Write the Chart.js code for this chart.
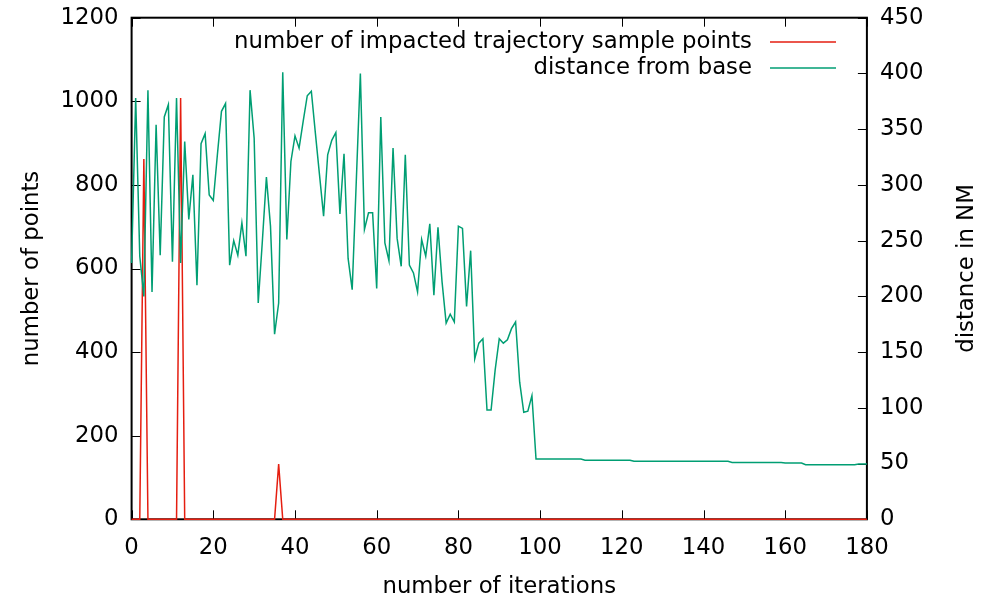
<!DOCTYPE html>
<html>
<head>
<meta charset="utf-8">
<script src="https://cdn.jsdelivr.net/npm/chart.js@4.4.1/dist/chart.umd.min.js"></script>
<style>
  html, body { margin: 0; padding: 0; background: #fff; }
  #wrap { width: 981px; height: 601px; }
</style>
</head>
<body>
<div id="wrap"><canvas id="chart"></canvas></div>
<script>
// tick labels
const IterationTicks = [0, 20, 40, 60, 80, 100, 120, 140, 160, 180];
const PointTicks = [0, 200, 400, 600, 800, 1000, 1200];
const DistanceTicks = [0, 50, 100, 150, 200, 250, 300, 350, 400, 450];

const SeriesLabels = ["number of impacted trajectory sample points", "distance from base"];

// one value per iteration, index = iteration number (0..180)
const ImpactedPoints = [
  0, 0, 0, 862, 0, 0, 0, 0, 0, 0,
  0, 0, 1008, 0, 0, 0, 0, 0, 0, 0,
  0, 0, 0, 0, 0, 0, 0, 0, 0, 0,
  0, 0, 0, 0, 0, 0, 132, 0, 0, 0,
  0, 0, 0, 0, 0, 0, 0, 0, 0, 0,
  0, 0, 0, 0, 0, 0, 0, 0, 0, 0,
  0, 0, 0, 0, 0, 0, 0, 0, 0, 0,
  0, 0, 0, 0, 0, 0, 0, 0, 0, 0,
  0, 0, 0, 0, 0, 0, 0, 0, 0, 0,
  0, 0, 0, 0, 0, 0, 0, 0, 0, 0,
  0, 0, 0, 0, 0, 0, 0, 0, 0, 0,
  0, 0, 0, 0, 0, 0, 0, 0, 0, 0,
  0, 0, 0, 0, 0, 0, 0, 0, 0, 0,
  0, 0, 0, 0, 0, 0, 0, 0, 0, 0,
  0, 0, 0, 0, 0, 0, 0, 0, 0, 0,
  0, 0, 0, 0, 0, 0, 0, 0, 0, 0,
  0, 0, 0, 0, 0, 0, 0, 0, 0, 0,
  0, 0, 0, 0, 0, 0, 0, 0, 0, 0,
  0
];

const DistanceFromBase = [
  230, 378, 236, 200, 385, 204, 354, 237, 361, 372,
  231, 378, 230, 339, 269, 309, 210, 337, 346, 291,
  286, 327, 366, 373, 228, 250, 237, 266, 236, 385,
  342, 194, 249, 307, 263, 166, 194, 401, 251, 321,
  344, 333, 357, 380, 384, 346, 309, 272, 327, 340,
  347, 274, 328, 234, 206, 303, 400, 260, 275, 275,
  207, 361, 248, 232, 333, 252, 227, 327, 228, 221,
  204, 251, 236, 265, 201, 262, 213, 176, 184, 177,
  263, 261, 191, 241, 144, 158, 162, 98, 98, 134,
  162, 158, 161, 171, 177, 123, 96, 97, 111, 54,
  54, 54, 54, 54, 54, 54, 54, 54, 54, 54,
  54, 53, 53, 53, 53, 53, 53, 53, 53, 53,
  53, 53, 53, 52, 52, 52, 52, 52, 52, 52,
  52, 52, 52, 52, 52, 52, 52, 52, 52, 52,
  52, 52, 52, 52, 52, 52, 52, 51, 51, 51,
  51, 51, 51, 51, 51, 51, 51, 51, 51, 51,
  50.5, 50.5, 50.5, 50.5, 50.5, 49, 49, 49, 49, 49,
  49, 49, 49, 49, 49, 49, 49, 49, 49.5, 49.5,
  49.5
];

const FontFamily = '"DejaVu Sans", sans-serif';
const FontSize = 22.8;
const Red = "#e51e10";
const Green = "#009e73";

const PlotBox = { left: 131.6, right: 866.9, top: 17.7, bottom: 519.3 };

function UseTicks(List) {
  return (Scale) => { Scale.ticks = List.map(v => ({ value: v })); };
}
const PlainLabel = (v) => String(v);

// fixed axis boxes so the plot area lands where gnuplot put it
function FixWidth(W) {
  return (s) => { s.width = W; s.paddingTop = 0; s.paddingBottom = 0; };
}
function FixHeight(H) {
  return (s) => { s.height = H; s.paddingLeft = 0; s.paddingRight = 0; };
}

// gnuplot style frame + inward tick marks
const FramePlugin = {
  id: "frame",
  beforeDatasetsDraw(chart) {
    const { ctx, chartArea } = chart;
    const { x, y, y2 } = chart.scales;
    ctx.save();
    ctx.strokeStyle = "#000";
    ctx.lineWidth = 1;
    ctx.beginPath();
    IterationTicks.forEach(v => {
      const px = Math.round(x.getPixelForValue(v)) + 0.5;
      ctx.moveTo(px, chartArea.bottom); ctx.lineTo(px, chartArea.bottom - 9);
      ctx.moveTo(px, chartArea.top); ctx.lineTo(px, chartArea.top + 9);
    });
    PointTicks.forEach(v => {
      const py = Math.round(y.getPixelForValue(v)) + 0.5;
      ctx.moveTo(chartArea.left, py); ctx.lineTo(chartArea.left + 9, py);
    });
    DistanceTicks.forEach(v => {
      const py = Math.round(y2.getPixelForValue(v)) + 0.5;
      ctx.moveTo(chartArea.right, py); ctx.lineTo(chartArea.right - 9, py);
    });
    ctx.stroke();
    ctx.lineWidth = 2;
    ctx.strokeRect(chartArea.left, chartArea.top, chartArea.right - chartArea.left, chartArea.bottom - chartArea.top);
    ctx.restore();
  },
  afterDraw(chart) {
    const { ctx, chartArea } = chart;
    ctx.save();
    ctx.font = FontSize + "px " + FontFamily;
    ctx.fillStyle = "#000";
    // right axis title, reading bottom to top like the left one
    ctx.save();
    ctx.translate(967, (chartArea.top + chartArea.bottom) / 2);
    ctx.rotate(-Math.PI / 2);
    ctx.textAlign = "center";
    ctx.textBaseline = "middle";
    ctx.fillText("distance in NM", 0, 0);
    ctx.restore();
    // key in the top right corner: text right aligned, sample line after it
    ctx.textAlign = "right";
    ctx.textBaseline = "middle";
    chart.data.datasets.forEach((ds, i) => {
      const ly = 42 + i * 26;
      ctx.fillStyle = "#000";
      ctx.fillText(ds.label, 752, ly);
      ctx.strokeStyle = ds.borderColor;
      ctx.lineWidth = 1.5;
      ctx.beginPath();
      ctx.moveTo(770, ly); ctx.lineTo(836, ly);
      ctx.stroke();
    });
    ctx.restore();
  }
};

const Canvas = document.getElementById("chart");
const Config = {
  type: "line",
  data: {
    datasets: [
      {
        label: SeriesLabels[0],
        data: ImpactedPoints.map((v, i) => ({ x: i, y: v })),
        yAxisID: "y",
        borderColor: Red,
        borderWidth: 1.5,
        pointRadius: 0,
        tension: 0,
        order: 1,
        clip: 3,
      },
      {
        label: SeriesLabels[1],
        data: DistanceFromBase.map((v, i) => ({ x: i, y: v })),
        yAxisID: "y2",
        borderColor: Green,
        borderWidth: 1.5,
        pointRadius: 0,
        tension: 0,
        order: 0,
        clip: 3,
      },
    ],
  },
  options: {
    responsive: true,
    maintainAspectRatio: false,
    animation: false,
    layout: { autoPadding: false, padding: { top: PlotBox.top, left: 0, right: 0, bottom: 0 } },
    plugins: { legend: { display: false }, tooltip: { enabled: false } },
    scales: {
      x: {
        type: "linear",
        min: 0, max: 180,
        afterBuildTicks: UseTicks(IterationTicks),
        afterFit: FixHeight(601 - PlotBox.bottom),
        grid: { display: false, drawTicks: false },
        border: { display: false },
        ticks: { color: "#000", padding: 15, maxRotation: 0, callback: PlainLabel, font: { family: FontFamily, size: FontSize } },
        title: { display: true, text: "number of iterations", color: "#000", padding: { top: 0, bottom: 0 }, font: { family: FontFamily, size: FontSize } },
      },
      y: {
        position: "left",
        min: 0, max: 1200,
        afterBuildTicks: UseTicks(PointTicks),
        afterFit: FixWidth(PlotBox.left),
        grid: { display: false, drawTicks: false },
        border: { display: false },
        ticks: { color: "#000", padding: 13, callback: PlainLabel, font: { family: FontFamily, size: FontSize } },
        title: { display: true, text: "number of points", color: "#000", padding: { top: 18, bottom: 0 }, font: { family: FontFamily, size: FontSize } },
      },
      y2: {
        position: "right",
        min: 0, max: 450,
        afterBuildTicks: UseTicks(DistanceTicks),
        afterFit: FixWidth(981 - PlotBox.right),
        grid: { display: false, drawTicks: false },
        border: { display: false },
        ticks: { color: "#000", padding: 13, callback: PlainLabel, font: { family: FontFamily, size: FontSize } },
        title: { display: false },
      },
    },
  },
  plugins: [FramePlugin],
};

new Chart(Canvas, Config);
</script>
</body>
</html>
